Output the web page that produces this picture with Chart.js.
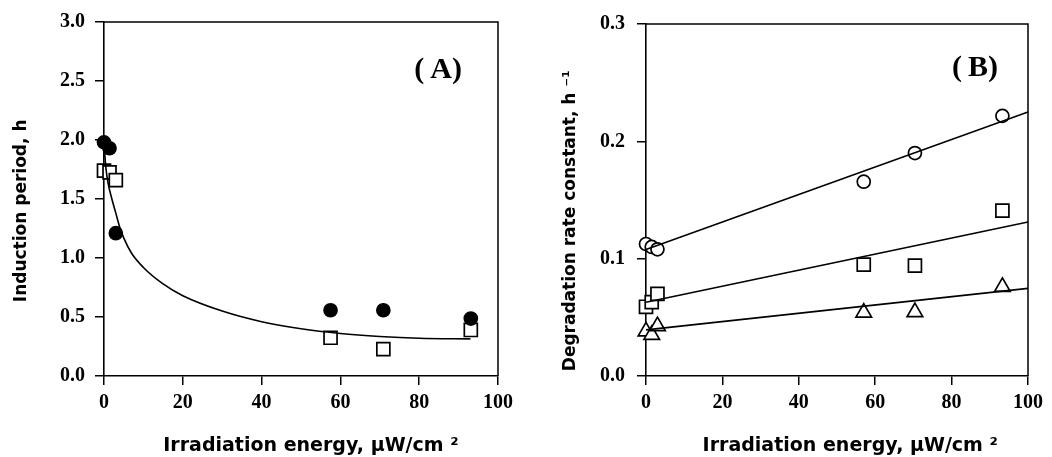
<!DOCTYPE html>
<html>
<head>
<meta charset="utf-8">
<script src="https://cdn.jsdelivr.net/npm/chart.js@4"></script>
<style>
    body { margin: 0; background: #ffffff; }
    .panel { position: absolute; top: 0; width: 526px; height: 457px; }
</style>
</head>
<body>
<div class="panel" style="left: 0px;"><canvas id="chartA" width="526" height="457"></canvas></div>
<div class="panel" style="left: 526px;"><canvas id="chartB" width="526" height="457"></canvas></div>
<script>
"use strict";

// Panel A: induction period vs irradiation energy
const aX = [0, 1.4, 3.0, 57.5, 70.9, 93.1];
const aSolidY = [1.98, 1.93, 1.21, 0.557, 0.557, 0.487];
const aOpenY = [1.74, 1.725, 1.66, 0.324, 0.228, 0.39];
const aFitX = [0, 0.5, 1, 2, 3, 4, 5, 7, 10, 15, 20, 30, 40, 50, 60, 70, 80, 93];
const aFitY = [1.97, 1.76, 1.64, 1.5, 1.38, 1.26, 1.17, 1.04, 0.92, 0.78, 0.68, 0.55, 0.46, 0.40, 0.36, 0.335, 0.32, 0.315];

// Panel B: degradation rate constant vs irradiation energy
const bX = [0, 1.5, 3.0, 57, 70.4, 93.3];
const bCircleY = [0.1125, 0.110, 0.108, 0.1656, 0.190, 0.2217];
const bSquareY = [0.059, 0.063, 0.070, 0.095, 0.094, 0.141];
const bTriangleY = [0.038, 0.035, 0.0425, 0.054, 0.0545, 0.076];
const bFitX = [0, 100];
const bCircleFit = [0.1078, 0.2249];
const bSquareFit = [0.0628, 0.1313];
const bTriangleFit = [0.0393, 0.0747];

const xTickLabels = [0, 20, 40, 60, 80, 100];

const tickFont = {family: "'Liberation Serif', 'Times New Roman', serif", size: 20, weight: "bold"};
const yTitleFont = {family: "'DejaVu Sans', sans-serif", size: 17, weight: "bold"};
const xTitleFont = {family: "'DejaVu Sans', sans-serif", size: 19, weight: "bold"};

// Zip two arrays into {x, y} points
function toPoints(xs, ys) {
    return xs.map((x, i) => ({x: x, y: ys[i]}));
}

function markerSet(xs, ys, style, filled, radius) {
    return {
        data: toPoints(xs, ys),
        showLine: false,
        pointStyle: style,
        pointRadius: radius,
        pointBorderWidth: 1.7,
        pointBorderColor: "#000000",
        pointBackgroundColor: filled ? "#000000" : "#ffffff",
        clip: false
    };
}

function fitLine(xs, ys, smooth) {
    return {
        data: toPoints(xs, ys),
        showLine: true,
        pointRadius: 0,
        borderColor: "#000000",
        borderWidth: 1.6,
        cubicInterpolationMode: smooth ? "monotone" : "default",
        clip: false
    };
}

// Top and right sides of the plot box
const framePlugin = {
    id: "frame",
    afterDraw(chart) {
        const a = chart.chartArea;
        const c = chart.ctx;
        c.save();
        c.strokeStyle = "#000000";
        c.lineWidth = 1.5;
        c.beginPath();
        c.moveTo(a.left, a.top);
        c.lineTo(a.right, a.top);
        c.lineTo(a.right, a.bottom);
        c.stroke();
        c.restore();
    }
};

// Panel letter, placed in data coordinates
const panelLabelPlugin = {
    id: "panelLabel",
    afterDraw(chart, args, opts) {
        const c = chart.ctx;
        c.save();
        c.font = "bold 30px 'Liberation Serif', serif";
        c.fillStyle = "#000000";
        c.textAlign = "center";
        c.textBaseline = "middle";
        c.fillText(opts.text, chart.scales.x.getPixelForValue(opts.x), chart.scales.y.getPixelForValue(opts.y));
        c.restore();
    }
};

function makeConfig(datasets, yMax, yStep, xTitle, yTitle, yWidth, yTitlePad, yTickPad, rightPad, label) {
    return {
        type: "scatter",
        data: {datasets: datasets},
        options: {
            responsive: false,
            animation: false,
            layout: {padding: {top: 20, right: rightPad, bottom: 0, left: 0}},
            plugins: {
                legend: {display: false},
                tooltip: {enabled: false},
                panelLabel: label
            },
            scales: {
                x: {
                    type: "linear",
                    min: 0,
                    max: 100,
                    afterBuildTicks: (scale) => { scale.ticks = xTickLabels.map(v => ({value: v})); },
                    afterFit: (scale) => { scale.height = 81; },
                    border: {display: true, color: "#000000", width: 1.6},
                    grid: {drawOnChartArea: false, drawTicks: true, tickLength: 9, color: "#000000", lineWidth: 1.5},
                    ticks: {color: "#000000", font: tickFont, padding: 6, maxRotation: 0},
                    title: {display: true, text: xTitle, color: "#000000", font: xTitleFont, padding: {top: 0, bottom: 0}}
                },
                y: {
                    type: "linear",
                    min: 0,
                    max: yMax,
                    afterFit: (scale) => { scale.width = yWidth; },
                    border: {display: true, color: "#000000", width: 1.6},
                    grid: {drawOnChartArea: false, drawTicks: true, tickLength: 9, color: "#000000", lineWidth: 1.5},
                    ticks: {color: "#000000", font: tickFont, padding: yTickPad, stepSize: yStep, callback: (v) => v.toFixed(1)},
                    title: {display: true, text: yTitle, color: "#000000", font: yTitleFont, padding: {top: yTitlePad, bottom: 0}}
                }
            }
        },
        plugins: [framePlugin, panelLabelPlugin]
    };
}

const datasetsA = [
    fitLine(aFitX, aFitY, true),
    markerSet(aX, aSolidY, "circle", true, 6.5),
    markerSet(aX, aOpenY, "rect", false, 9.2)
];

const datasetsB = [
    fitLine(bFitX, bCircleFit, false),
    fitLine(bFitX, bSquareFit, false),
    fitLine(bFitX, bTriangleFit, false),
    markerSet(bX, bCircleY, "circle", false, 6.5),
    markerSet(bX, bSquareY, "rect", false, 9.2),
    markerSet(bX, bTriangleY, "triangle", false, 9)
];

// Leading / trailing spaces nudge the titles off-centre as in the original figure
const chartA = new Chart(document.getElementById("chartA").getContext("2d"),
    makeConfig(datasetsA, 3.0, 0.5,
        "   Irradiation energy, μW/cm ²", "Induction period, h    ",
        104, 11, 10, 28, {text: "(\u2009A)", x: 84.8, y: 2.59}));

const chartB = new Chart(document.getElementById("chartB").getContext("2d"),
    makeConfig(datasetsB, 0.3, 0.1,
        "    Irradiation energy, μW/cm ²", "Degradation rate constant, h ⁻¹       ",
        120, 34, 12, 24, {text: "(\u2009B)", x: 86.1, y: 0.262}));
</script>
</body>
</html>
